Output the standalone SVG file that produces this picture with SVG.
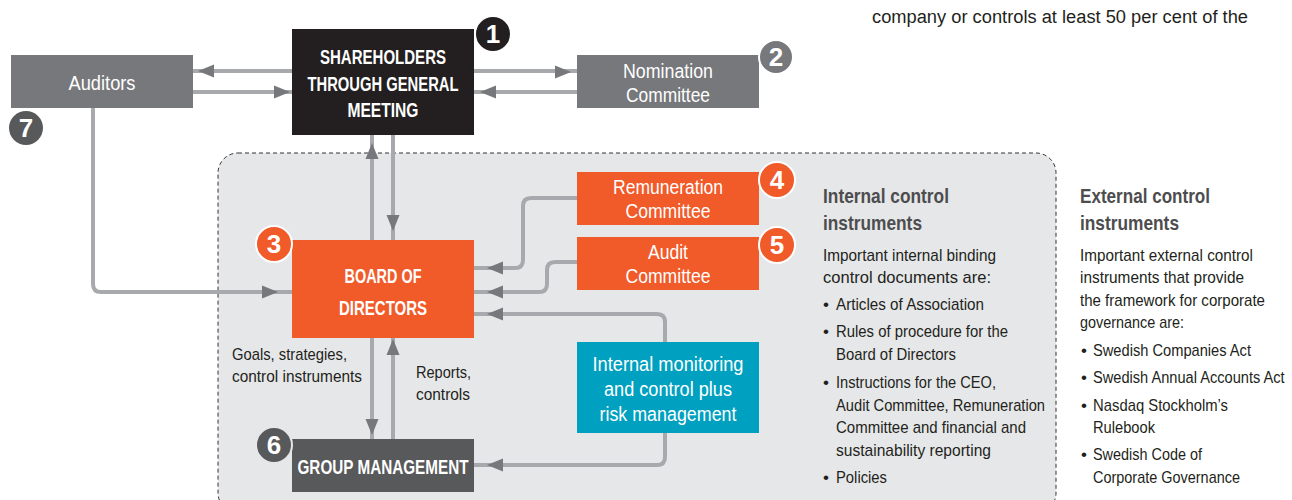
<svg xmlns="http://www.w3.org/2000/svg" width="1292" height="500" viewBox="0 0 1292 500">
<style>
text{font-family:"Liberation Sans",Arial,sans-serif}
.w{fill:#fff;font-size:20px;text-anchor:middle}
.wb{fill:#fff;font-size:20px;font-weight:bold;text-anchor:middle}
.t{fill:#231f20;font-size:17px}
.h{fill:#4d4d4f;font-size:21px;font-weight:bold}
.ln{fill:none;stroke:#a7a9ac;stroke-width:4}
.ah{fill:#77787b}
.num{fill:#fff;font-size:26px;font-weight:bold;text-anchor:middle}
</style>
<defs>
<path id="ah" d="M0,0 L-16,-6.5 L-16,6.5 Z"/>
</defs>
<rect width="1292" height="500" fill="#fff"/>
<rect id="region" x="218" y="153" width="838" height="360" rx="20" fill="#e6e7e8" stroke="#333" stroke-width="1" stroke-dasharray="4 3"/>
<text class="t" x="872" y="23" textLength="376" lengthAdjust="spacingAndGlyphs" style="font-size:18px">company or controls at least 50 per cent of the</text>

<g id="connectors">
<path class="ln" d="M292,71 H193"/>
<path class="ln" d="M193,92 H292"/>
<path class="ln" d="M474,71 H577"/>
<path class="ln" d="M577,92 H474"/>
<path class="ln" d="M372,240 V135"/>
<path class="ln" d="M393,135 V240"/>
<path class="ln" d="M93,108 V284 Q93,292 101,292 H292"/>
<path class="ln" d="M577,198 H531 Q523,198 523,206 V260 Q523,268 515,268 H474"/>
<path class="ln" d="M577,262 H555 Q547,262 547,270 V284 Q547,292 539,292 H474"/>
<path class="ln" d="M474,314 H657 Q665,314 665,322 V457 Q665,465 657,465 H474"/>
<path class="ln" d="M372,338 V439"/>
<path class="ln" d="M393,439 V338"/>
<use href="#ah" class="ah" transform="translate(198,71) rotate(180)"/>
<use href="#ah" class="ah" transform="translate(290,92)"/>
<use href="#ah" class="ah" transform="translate(571,72)"/>
<use href="#ah" class="ah" transform="translate(480,92) rotate(180)"/>
<use href="#ah" class="ah" transform="translate(372,143) rotate(-90)"/>
<use href="#ah" class="ah" transform="translate(393,231) rotate(90)"/>
<use href="#ah" class="ah" transform="translate(278,292)"/>
<use href="#ah" class="ah" transform="translate(487,268) rotate(180)"/>
<use href="#ah" class="ah" transform="translate(487,292) rotate(180)"/>
<use href="#ah" class="ah" transform="translate(487,314) rotate(180)"/>
<use href="#ah" class="ah" transform="translate(372,435) rotate(90)"/>
<use href="#ah" class="ah" transform="translate(393,339) rotate(-90)"/>
<use href="#ah" class="ah" transform="translate(487,465) rotate(180)"/>
</g>

<g id="auditors">
<rect x="11" y="55" width="182" height="53" fill="#77787b"/>
<text class="w" x="102" y="90" textLength="67" lengthAdjust="spacingAndGlyphs">Auditors</text>
<circle cx="26" cy="128" r="17" fill="#58595b"/>
<text class="num" x="26" y="137">7</text>
</g>

<g id="shareholders">
<rect x="292" y="29" width="182" height="106" fill="#231f20"/>
<text class="wb" x="383" y="64" textLength="126" lengthAdjust="spacingAndGlyphs">SHAREHOLDERS</text>
<text class="wb" x="383" y="91" textLength="151" lengthAdjust="spacingAndGlyphs">THROUGH GENERAL</text>
<text class="wb" x="383" y="117" textLength="71" lengthAdjust="spacingAndGlyphs">MEETING</text>
<circle cx="493" cy="34" r="18" fill="#231f20" stroke="#fff" stroke-width="2"/>
<text class="num" x="493" y="43">1</text>
</g>

<g id="nomination">
<rect x="577" y="55" width="182" height="53" fill="#77787b"/>
<text class="w" x="668" y="78" textLength="90" lengthAdjust="spacingAndGlyphs">Nomination</text>
<text class="w" x="668" y="102" textLength="84" lengthAdjust="spacingAndGlyphs">Committee</text>
<circle cx="776" cy="57" r="17" fill="#77787b" stroke="#fff" stroke-width="2"/>
<text class="num" x="776" y="66">2</text>
</g>

<g id="board">
<rect x="292" y="240" width="182" height="98" fill="#f15a29"/>
<text class="wb" x="383" y="283" textLength="77" lengthAdjust="spacingAndGlyphs">BOARD OF</text>
<text class="wb" x="383" y="315" textLength="88" lengthAdjust="spacingAndGlyphs">DIRECTORS</text>
<circle cx="274" cy="244" r="18" fill="#f15a29" stroke="#fff" stroke-width="2"/>
<text class="num" x="274" y="253">3</text>
</g>

<g id="remuneration">
<rect x="577" y="172" width="182" height="53" fill="#f15a29"/>
<text class="w" x="668" y="194" textLength="110" lengthAdjust="spacingAndGlyphs">Remuneration</text>
<text class="w" x="668" y="218" textLength="85" lengthAdjust="spacingAndGlyphs">Committee</text>
<circle cx="777" cy="180" r="18" fill="#f15a29" stroke="#fff" stroke-width="2"/>
<text class="num" x="777" y="189">4</text>
</g>

<g id="audit">
<rect x="577" y="237" width="182" height="53" fill="#f15a29"/>
<text class="w" x="668" y="259" textLength="40" lengthAdjust="spacingAndGlyphs">Audit</text>
<text class="w" x="668" y="283" textLength="85" lengthAdjust="spacingAndGlyphs">Committee</text>
<circle cx="777" cy="245" r="18" fill="#f15a29" stroke="#fff" stroke-width="2"/>
<text class="num" x="777" y="254">5</text>
</g>

<g id="monitoring">
<rect x="577" y="342" width="182" height="91" fill="#00a0c0"/>
<text class="w" x="668" y="371" textLength="151" lengthAdjust="spacingAndGlyphs">Internal monitoring</text>
<text class="w" x="668" y="396" textLength="128" lengthAdjust="spacingAndGlyphs">and control plus</text>
<text class="w" x="668" y="421" textLength="137" lengthAdjust="spacingAndGlyphs">risk management</text>
</g>

<g id="group">
<rect x="292" y="439" width="182" height="53" fill="#58595b"/>
<text class="wb" x="383" y="474" textLength="171" lengthAdjust="spacingAndGlyphs">GROUP MANAGEMENT</text>
<circle cx="274" cy="445" r="18" fill="#58595b" stroke="#e6e7e8" stroke-width="2"/>
<text class="num" x="274" y="454">6</text>
</g>

<g id="labels">
<text class="t" x="232" y="360" textLength="115" lengthAdjust="spacingAndGlyphs">Goals, strategies,</text>
<text class="t" x="232" y="382" textLength="130" lengthAdjust="spacingAndGlyphs">control instruments</text>
<text class="t" x="416" y="378" textLength="55" lengthAdjust="spacingAndGlyphs">Reports,</text>
<text class="t" x="416" y="400" textLength="54" lengthAdjust="spacingAndGlyphs">controls</text>
</g>

<g id="internal">
<text class="h" x="823" y="203" textLength="126" lengthAdjust="spacingAndGlyphs">Internal control</text>
<text class="h" x="823" y="230" textLength="99" lengthAdjust="spacingAndGlyphs">instruments</text>
<text class="t" x="823" y="261" textLength="173" lengthAdjust="spacingAndGlyphs">Important internal binding</text>
<text class="t" x="823" y="283" textLength="168" lengthAdjust="spacingAndGlyphs">control documents are:</text>
<text class="t" x="823" y="310">•</text><text class="t" x="836" y="310" textLength="148" lengthAdjust="spacingAndGlyphs">Articles of Association</text>
<text class="t" x="823" y="337">•</text><text class="t" x="836" y="337" textLength="172" lengthAdjust="spacingAndGlyphs">Rules of procedure for the</text>
<text class="t" x="836" y="360" textLength="120" lengthAdjust="spacingAndGlyphs">Board of Directors</text>
<text class="t" x="823" y="388">•</text><text class="t" x="836" y="388" textLength="160" lengthAdjust="spacingAndGlyphs">Instructions for the CEO,</text>
<text class="t" x="836" y="411" textLength="209" lengthAdjust="spacingAndGlyphs">Audit Committee, Remuneration</text>
<text class="t" x="836" y="433" textLength="190" lengthAdjust="spacingAndGlyphs">Committee and financial and</text>
<text class="t" x="836" y="456" textLength="155" lengthAdjust="spacingAndGlyphs">sustainability reporting</text>
<text class="t" x="823" y="483">•</text><text class="t" x="836" y="483" textLength="51" lengthAdjust="spacingAndGlyphs">Policies</text>
</g>

<g id="external">
<text class="h" x="1080" y="203" textLength="130" lengthAdjust="spacingAndGlyphs">External control</text>
<text class="h" x="1080" y="230" textLength="99" lengthAdjust="spacingAndGlyphs">instruments</text>
<text class="t" x="1080" y="261" textLength="173" lengthAdjust="spacingAndGlyphs">Important external control</text>
<text class="t" x="1080" y="283" textLength="164" lengthAdjust="spacingAndGlyphs">instruments that provide</text>
<text class="t" x="1080" y="306" textLength="185" lengthAdjust="spacingAndGlyphs">the framework for corporate</text>
<text class="t" x="1080" y="328" textLength="104" lengthAdjust="spacingAndGlyphs">governance are:</text>
<text class="t" x="1081" y="356">•</text><text class="t" x="1093" y="356" textLength="158" lengthAdjust="spacingAndGlyphs">Swedish Companies Act</text>
<text class="t" x="1081" y="383">•</text><text class="t" transform="translate(1093,383) scale(0.86,1)">Swedish Annual Accounts Act</text>
<text class="t" x="1081" y="411">•</text><text class="t" x="1093" y="411" textLength="135" lengthAdjust="spacingAndGlyphs">Nasdaq Stockholm’s</text>
<text class="t" x="1093" y="433" textLength="62" lengthAdjust="spacingAndGlyphs">Rulebook</text>
<text class="t" x="1081" y="460">•</text><text class="t" x="1093" y="460" textLength="109" lengthAdjust="spacingAndGlyphs">Swedish Code of</text>
<text class="t" x="1093" y="483" textLength="147" lengthAdjust="spacingAndGlyphs">Corporate Governance</text>
</g>
</svg>
